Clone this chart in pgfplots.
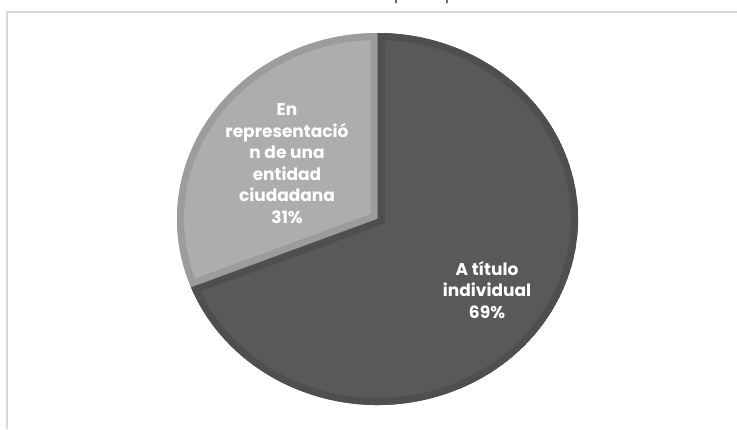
\documentclass[border=0pt]{standalone}
\usepackage{pgfplots}
\pgfplotsset{compat=1.18}
\usepackage{pgfplotstable}
\usepackage{fontspec}
\setmainfont{Poppins}

\definecolor{darkslice}{HTML}{595959}
\definecolor{darkedge}{HTML}{4F4F4F}
\definecolor{lightslice}{HTML}{ADADAD}
\definecolor{lightedge}{HTML}{9C9C9C}
\definecolor{framegray}{HTML}{D9D9D9}

% share of each answer, in percent
\pgfplotstableread{
part value
individual 69
entidad 31
}\piedata

% pie geometry, axis units = bp
\newcommand\slice[2]{(c) -- ++(#1:200.5bp and 186bp) arc[start angle=#1,end angle=#2,x radius=200.5bp,y radius=186bp] -- cycle}

\begin{document}
\begin{tikzpicture}
\pgfplotstablegetelem{0}{value}\of\piedata \let\vind\pgfplotsretval
\pgfplotstablegetelem{1}{value}\of\piedata \let\vent\pgfplotsretval
\pgfmathsetmacro{\aent}{90+3.6*\vent}   % light slice: ccw from 12 o'clock
\pgfmathsetmacro{\aind}{\aent+3.6*\vind}
\begin{axis}[
    hide axis,
    scale only axis,
    width=737bp, height=419bp,
    xmin=0, xmax=737, ymin=0, ymax=419,
    clip=false,
]
    % keep the whole 737x419 area as the page
    \path (axis cs:0,0) rectangle (axis cs:737,419);
    \coordinate (c) at (axis cs:377.5,200);

    % chart frame (only top and left edge are in view), runs on past the page
    \draw[overlay, framegray, line width=1.5bp] (axis cs:7,-10) -- (axis cs:7,407) -- (axis cs:750,407);

    % title, cut off above the picture: only the descenders of the p's show
    \node[overlay, anchor=base west, inner sep=0pt, font=\fontsize{16bp}{18bp}\selectfont, text=black!80]
        at (axis cs:394,419) {\llap{Modalidad de }participación};

    % light slice
    \begin{scope}
        \clip \slice{90}{\aent};
        \fill[lightslice] \slice{90}{\aent};
        \draw[lightedge, line width=14bp] \slice{90}{\aent};
    \end{scope}
    % dark slice
    \begin{scope}
        \clip \slice{\aent}{\aind};
        \fill[darkslice] \slice{\aent}{\aind};
        \draw[darkedge, line width=14bp] \slice{\aent}{\aind};
    \end{scope}

    \node[text=white, align=center, font=\bfseries\fontsize{17bp}{21.5bp}\selectfont]
        at (axis cs:287,255.5) {En\\representació\\n de una\\entidad\\ciudadana\\\vent\%};
    \node[text=white, align=center, font=\bfseries\fontsize{17bp}{21.5bp}\selectfont]
        at (axis cs:487,129) {A título\\individual\\\vind\%};
\end{axis}
\end{tikzpicture}
\end{document}
